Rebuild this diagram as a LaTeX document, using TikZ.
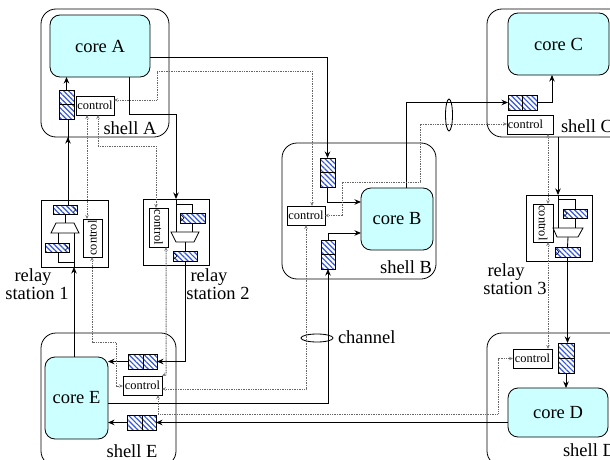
\documentclass[tikz,border=0pt]{standalone}
\usepackage{fontspec}
\setmainfont{Liberation Serif}
\usetikzlibrary{arrows.meta,patterns.meta,shapes.geometric}
\definecolor{corefill}{HTML}{CCFFFF}
\definecolor{hatchblue}{HTML}{3355DD}
\newcommand{\bigtxt}{\fontsize{18.5}{18.5}\selectfont}
\newcommand{\ctltxt}{\fontsize{12.4}{12.4}\selectfont}
\newcommand{\ctlup}{\rotatebox{90}{control}}
\newcommand{\ctldown}{\rotatebox{-90}{control}}
% \mkbox{style}{name}{x1}{y1}{x2}{y2}{text}
\newcommand{\mkbox}[7]{%
  \pgfmathsetmacro{\bw}{#5-#3}\pgfmathsetmacro{\bh}{#6-#4}%
  \pgfmathsetmacro{\bx}{(#5+#3)/2}\pgfmathsetmacro{\by}{(#6+#4)/2}%
  \node[#1,minimum width=\bw pt,minimum height=\bh pt] (#2) at (\bx,\by) {#7};}
\tikzset{
  x=1pt,y=-1pt,
  every node/.style={inner sep=0pt,outer sep=0pt},
  shellbox/.style={draw,rectangle,rounded corners=15pt,line width=0.8pt},
  relaybox/.style={draw,rectangle,line width=0.85pt},
  corebox/.style={draw,rectangle,rounded corners=10pt,fill=corefill,line width=0.8pt,font=\bigtxt},
  ctlbox/.style={draw,rectangle,fill=white,line width=0.8pt,font=\ctltxt},
  bufcell/.style={draw,rectangle,line width=0.8pt,pattern={Lines[angle=-45,distance=3.6pt,line width=1.2pt]},pattern color=hatchblue},
  label/.style={font=\bigtxt},
  wire/.style={draw=black,line width=0.85pt},
  arr/.style={-{Stealth[length=6.5pt,width=5.5pt]}},
  sig/.style={draw=gray!80!black,line width=1pt,dash pattern=on 1pt off 0.7pt,{Stealth[length=4pt,width=3.5pt,gray]}-{Stealth[length=4pt,width=3.5pt,gray]}},
  muxshape/.style={draw,line width=0.8pt,fill=white},
  ring/.style={draw,ellipse,line width=0.85pt},
  tick/.style={draw,line width=0.4pt},
}
\begin{document}
\begin{tikzpicture}
\useasboundingbox (0,0) rectangle (610,460);
\clip (0,0) rectangle (610,460);
% shells and relay boxes
\mkbox{shellbox}{shellA}{41}{9}{169}{137}{}
\mkbox{shellbox}{shellB}{282}{143}{436}{279}{}
\mkbox{shellbox}{shellC}{487}{9}{640}{137}{}
\mkbox{shellbox}{shellD}{487}{333}{640}{466}{}
\mkbox{shellbox}{shellE}{41}{333}{176}{466}{}
\mkbox{relaybox}{rs1}{41}{200}{108}{267}{}
\mkbox{relaybox}{rs2}{143}{199}{209}{265}{}
\mkbox{relaybox}{rs3}{526}{195}{592}{261}{}
% cores
\mkbox{corebox}{coreA}{50}{15}{150}{77}{core A}
\mkbox{corebox}{coreB}{361}{188}{433}{250}{core B}
\mkbox{corebox}{coreC}{508}{13}{609}{75}{core C}
\mkbox{corebox}{coreD}{508}{388}{608}{437}{core D}
\mkbox{corebox}{coreE}{45}{357}{108}{439}{core E}
% control blocks
\mkbox{ctlbox}{ctlA}{76}{96}{114}{115}{control}
\mkbox{ctlbox}{ctlB}{287}{206}{325}{225}{control}
\mkbox{ctlbox}{ctlC}{507}{115}{553}{134}{\hspace{-9pt}control}
\mkbox{ctlbox}{ctlD}{513}{349}{552}{368}{control}
\mkbox{ctlbox}{ctlE}{123}{376}{162}{395}{control}
\mkbox{ctlbox}{ctlRa}{83}{219}{102}{257}{\ctlup}
\mkbox{ctlbox}{ctlRb}{149}{208}{168}{247}{\ctldown}
\mkbox{ctlbox}{ctlRc}{533}{204}{553}{242}{\ctldown}
% buffers
\mkbox{bufcell}{bAa}{59}{90}{74}{104.5}{}
\mkbox{bufcell}{bAb}{59}{104.5}{74}{119}{}
\mkbox{bufcell}{bBa}{320}{158}{335}{172.5}{}
\mkbox{bufcell}{bBb}{320}{172.5}{335}{187}{}
\mkbox{bufcell}{bBc}{321}{240}{335}{254.5}{}
\mkbox{bufcell}{bBd}{321}{254.5}{335}{269}{}
\mkbox{bufcell}{bCa}{508}{95}{522.5}{110}{}
\mkbox{bufcell}{bCb}{522.5}{95}{537}{110}{}
\mkbox{bufcell}{bDa}{558}{343}{574}{358}{}
\mkbox{bufcell}{bDb}{558}{358}{574}{373}{}
\mkbox{bufcell}{bEa}{128}{354}{143}{369}{}
\mkbox{bufcell}{bEb}{143}{354}{157}{369}{}
\mkbox{bufcell}{bFa}{127}{415}{142}{430}{}
\mkbox{bufcell}{bFb}{142}{415}{156}{430}{}
\mkbox{bufcell}{raT}{53}{205}{77}{214}{}
\mkbox{bufcell}{raB}{45}{243}{69}{252}{}
\mkbox{bufcell}{rbT}{180}{213}{205}{223}{}
\mkbox{bufcell}{rbB}{173}{251}{197}{261}{}
\mkbox{bufcell}{rcT}{563}{209}{587}{218}{}
\mkbox{bufcell}{rcB}{555}{247}{580}{257}{}
% clock ticks on relay buffers
\draw[tick] (raT.east)++(-4,-3) -- ++(3,3) -- ++(-3,3);
\draw[tick] (raB.east)++(-4,-3) -- ++(3,3) -- ++(-3,3);
\draw[tick] (rbT.west)++(1,-3) -- ++(3,3) -- ++(-3,3);
\draw[tick] (rbB.west)++(1,-3) -- ++(3,3) -- ++(-3,3);
\draw[tick] (rcT.west)++(1,-3) -- ++(3,3) -- ++(-3,3);
\draw[tick] (rcB.west)++(1,-3) -- ++(3,3) -- ++(-3,3);
% multiplexers
\coordinate (muxaT) at (65,223); \coordinate (muxaB) at (65,233);
\coordinate (muxbT) at (185,232); \coordinate (muxbB) at (185,242);
\coordinate (muxcT) at (568,228); \coordinate (muxcB) at (568,237);
\draw[muxshape] (56,223) -- (74,223) -- (79,233) -- (51,233) -- cycle;
\draw[muxshape] (171,232) -- (199,232) -- (194,242) -- (176,242) -- cycle;
\draw[muxshape] (553,228) -- (583,228) -- (578,237) -- (557,237) -- cycle;
% wires: shell A and relay 1
\draw[wire,arr] (bAa.north) -- (coreA.south -| bAa.north);
\draw[wire] (rs1.north -| 68,0) -- (bAb.south -| 68,0);
\draw[wire,arr] (rs1.north -| 68,0) -- (shellA.south -| 68,0);
\draw[wire] (rs1.north -| 68,0) -- (raT.north -| 68,0);
\draw[wire] (raT.south -| muxaT) -- (muxaT);
\draw[wire] (58,0 |- muxaB) -- (raB.north -| 58,0);
\draw[wire] (raB.south -| 58,0) |- (74,262);
\draw[wire] (74,0 |- muxaB) -- (rs1.south -| 74,0);
\draw[wire,arr] (coreE.north -| 74,0) -- (rs1.south -| 74,0);
% wires: core A out
\draw[wire,arr] (coreA.east |- 0,57) -| (bBa.north);
\draw[wire,arr] (coreA.south -| 129,0) |- (176,114) -- (rs2.north -| 176,0);
% relay 2
\draw[wire] (rs2.north -| 176,0) -- (176,0 |- muxbT);
\draw[wire] (176,204) -| (rbT.north);
\draw[wire] (rbT.south) -- (rbT.south |- muxbT);
\draw[wire] (muxbB) -- (rbB.north);
\draw[wire,arr] (rbB.south) |- (bEb.east);
\draw[wire,arr] (bEa.west) -- (coreE.east |- bEa.west);
% core B
\draw[wire] (bBa.south) -- (bBb.north);
\draw[wire,arr] (bBb.south) |- (coreB.west |- 0,202);
\draw[wire,arr] (bBc.north) |- (coreB.west |- 0,233);
\draw[wire,arr] (coreE.east |- 0,403) -| (bBd.south);
\draw[wire,arr] (coreB.north -| 406,0) |- (bCa.west);
\draw[wire,arr] (bCb.east) -| (coreC.south -| 552,0);
% relay 3
\draw[wire,arr] (shellC.south -| 558,0) -- (rs3.north -| 558,0);
\draw[wire] (rs3.north -| 558,0) -- (558,0 |- muxcT);
\draw[wire] (558,199) -| (rcT.north);
\draw[wire] (rcT.south) -- (rcT.south |- muxcT);
\draw[wire] (muxcB) -- (rcB.north);
\draw[wire,arr] (rcB.south) -- (bDa.north -| rcB.south);
\draw[wire,arr] (bDb.south) -- (coreD.north -| bDb.south);
\draw[wire,arr] (coreD.west |- bFb.east) -- (bFb.east);
\draw[wire,arr] (bFa.west) -- (coreE.east |- bFa.west);
% control signals
\draw[sig] (ctlA.east |- 0,100) -| (157,71) -| (ctlB.north -| 312,0);
\draw[sig] (ctlA.south -| 87,0) -- (ctlRa.north -| 87,0);
\draw[sig] (ctlA.south -| 98,0) |- (156,146) -- (ctlRb.north -| 156,0);
\draw[sig] (ctlRa.south -| 92,0) |- (116,342) |- (ctlE.west |- 0,386);
\draw[sig] (ctlRb.south -| 166,0) -- (166,374) -- (ctlE.north east);
\draw[sig] (ctlE.east |- 0,389) -| (ctlB.south -| 306,0);
\draw[sig] (ctlE.south -| 158,0) |- (498,414) |- (ctlD.west);
\draw[sig] (ctlB.east) -| (342,182) -| (420,124) -- (ctlC.west |- 0,124);
\draw[sig] (ctlC.south -| 548,0) -- (ctlRc.north -| 548,0);
\draw[sig] (ctlRc.south -| 548,0) -- (ctlD.north -| 548,0);
% channel rings
\node[ring,minimum width=7pt,minimum height=32pt] (ringC) at (449,115) {};
\node[ring,minimum width=32pt,minimum height=8pt] (ringB) at (317,338) {};
% labels
\node[label] (lblA) at (130,128) {shell A};
\node[label] (lblB) at (406,267) {shell B};
\node[label,anchor=west] (lblC) at (561,126) {shell C};
\node[label,anchor=west] (lblD) at (563,450) {shell D};
\node[label] (lblE) at (132,451) {shell E};
\node[label,anchor=west] (lblCh) at (338,337) {channel};
\node[label,align=center] (lblRa) at (37,284) {\hspace*{-8pt}relay\\[-0.5pt]station 1};
\node[label,align=center] (lblRb) at (218,284) {\hspace*{-18pt}relay\\[-0.5pt]station 2};
\node[label,align=center] (lblRc) at (515,279) {\hspace*{-18pt}relay\\[-0.5pt]station 3};
\end{tikzpicture}
\end{document}
